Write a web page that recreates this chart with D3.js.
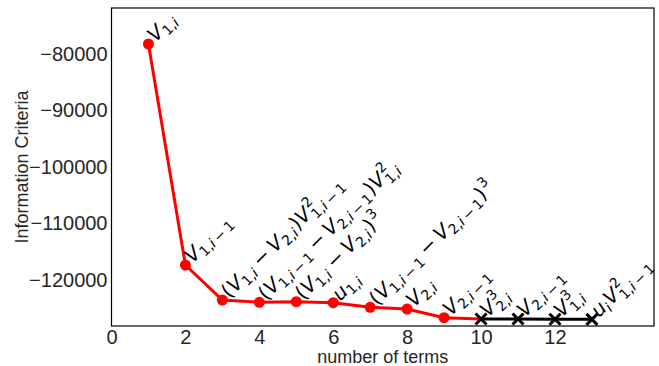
<!DOCTYPE html>
<html>
<head>
<meta charset="utf-8">
<script src="https://cdn.jsdelivr.net/npm/d3@7"></script>
<style>
  html, body { margin: 0; padding: 0; background: #fff; }
  svg { display: block; }
</style>
</head>
<body>
<svg id="chart" width="659" height="366"></svg>
<script>
// ---------------- data ----------------
const terms = [1, 2, 3, 4, 5, 6, 7, 8, 9, 10, 11, 12, 13];
const criteria = [-78230, -117350, -123540, -123950, -123840, -124020, -124830,
                  -125130, -126670, -126900, -126900, -126940, -126960];
// mini-TeX term labels
const termLabels = [
  "V_{1,i}",
  "V_{1,i-1}",
  "(V_{1,i}-V_{2,i})V^{2}_{1,i-1}",
  "(V_{1,i-1}-V_{2,i-1})V^{2}_{1,i}",
  "(V_{1,i}-V_{2,i})^{3}",
  "u_{1,i}",
  "(V_{1,i-1}-V_{2,i-1})^{3}",
  "V_{2,i}",
  "V_{2,i-1}",
  "V^{3}_{2,i}",
  "V_{2,i-1}",
  "V^{3}_{1,i}",
  "u_{i}V^{2}_{1,i-1}"
];
const selectedCount = 10;           // red segment: terms 1..10, black: 10..13
const xTicks = [0, 2, 4, 6, 8, 10, 12];
const yTicks = [-80000, -90000, -100000, -110000, -120000];
const xDomain = [0, 14.68];
const yDomain = [-128140, -71860];
const xLabel = "number of terms";
const yLabel = "Information Criteria";

// ---------------- layout ----------------
const svg = d3.select("#chart");
const m = { left: 111.5, right: 654, top: 8, bottom: 326 };
const x = d3.scaleLinear().domain(xDomain).range([m.left, m.right]);
const y = d3.scaleLinear().domain(yDomain).range([m.bottom, m.top]);

const tickFont = "'Liberation Sans', Arial, sans-serif";
const fmt = v => (v < 0 ? "\u2212" : "") + Math.abs(v);

// axes (no tick marks, just labels)
const xAxis = svg.append("g").attr("transform", `translate(0,${m.bottom})`)
  .call(d3.axisBottom(x).tickValues(xTicks).tickSize(0).tickPadding(4).tickFormat(d3.format("d")));
xAxis.select(".domain").remove();
xAxis.selectAll("text").attr("font-family", tickFont).attr("font-size", 20).attr("fill", "#262626");

const yAxis = svg.append("g").attr("transform", `translate(${m.left},0)`)
  .call(d3.axisLeft(y).tickValues(yTicks).tickSize(0).tickPadding(4).tickFormat(fmt));
yAxis.select(".domain").remove();
yAxis.selectAll("text").attr("font-family", tickFont).attr("font-size", 20).attr("fill", "#262626");

// frame
svg.append("rect")
  .attr("x", m.left).attr("y", m.top)
  .attr("width", m.right - m.left).attr("height", m.bottom - m.top)
  .attr("fill", "none").attr("stroke", "#000").attr("stroke-width", 1.2);

// axis labels
svg.append("text").attr("x", (m.left + m.right) / 2).attr("y", 363)
  .attr("text-anchor", "middle").attr("font-family", tickFont).attr("font-size", 18)
  .attr("fill", "#262626").text(xLabel);
svg.append("text").attr("transform", `translate(28,${(m.top + m.bottom) / 2}) rotate(-90)`)
  .attr("text-anchor", "middle").attr("font-family", tickFont).attr("font-size", 18)
  .attr("fill", "#262626").text(yLabel);

// ---------------- series ----------------
const pts = terms.map((t, i) => ({ t, v: criteria[i], label: termLabels[i] }));
const redPts = pts.slice(0, selectedCount);
const blackPts = pts.slice(selectedCount - 1);
const line = d3.line().x(d => x(d.t)).y(d => y(d.v));

svg.append("path").datum(blackPts).attr("d", line)
  .attr("fill", "none").attr("stroke", "#000").attr("stroke-width", 3);
svg.append("path").datum(redPts).attr("d", line)
  .attr("fill", "none").attr("stroke", "#ff0000").attr("stroke-width", 3);

svg.selectAll("circle.pt").data(redPts.slice(0, selectedCount - 1)).enter()
  .append("circle").attr("class", "pt")
  .attr("cx", d => x(d.t)).attr("cy", d => y(d.v)).attr("r", 5.5).attr("fill", "#ff0000");

const xs = 5.5;
svg.selectAll("path.xm").data(blackPts).enter().append("path").attr("class", "xm")
  .attr("d", d => {
    const cx = x(d.t), cy = y(d.v);
    return `M${cx - xs},${cy - xs}L${cx + xs},${cy + xs}M${cx - xs},${cy + xs}L${cx + xs},${cy - xs}`;
  })
  .attr("stroke", "#000").attr("stroke-width", 3).attr("fill", "none");

// ---------------- math labels ----------------
const mathFont = "'DejaVu Sans', sans-serif";
const FS = 20;

function readGroup(s, i) {
  if (s[i] === "{") {
    let j = s.indexOf("}", i);
    return [s.slice(i + 1, j), j + 1];
  }
  return [s[i], i + 1];
}
function parse(s) {
  const items = [];
  let i = 0;
  while (i < s.length) {
    const c = s[i];
    if (c === "^" || c === "_") {
      const [g, ni] = readGroup(s, i + 1);
      let sup = null, sub = null;
      if (c === "^") sup = g; else sub = g;
      i = ni;
      if (i < s.length && (s[i] === "^" || s[i] === "_") && s[i] !== c) {
        const [g2, n2] = readGroup(s, i + 1);
        if (s[i] === "^") sup = g2; else sub = g2;
        i = n2;
      }
      items.push({ kind: "script", sup, sub });
    } else {
      items.push({ kind: "atom", c });
      i++;
    }
  }
  return items;
}

function drawRun(g, str, x0, dy, size) {
  let cx = x0;
  for (const ch of str) {
    let txt = ch, pre = 0, post = 0;
    const italic = /[A-Za-z]/.test(ch);
    if (ch === "-") { txt = "\u2212"; pre = size * 0.2; post = size * 0.2; }
    cx += pre;
    const t = g.append("text").attr("x", cx).attr("y", dy)
      .attr("font-family", mathFont).attr("font-size", size)
      .attr("font-style", italic ? "italic" : "normal").attr("fill", "#000").text(txt);
    cx += t.node().getComputedTextLength() + post;
  }
  return cx;
}

pts.forEach(d => {
  const g = svg.append("g")
    .attr("transform", `translate(${x(d.t) + 7},${y(d.v) - 1}) rotate(-45)`);
  let cx = 0;
  for (const it of parse(d.label)) {
    if (it.kind === "atom") {
      cx = drawRun(g, it.c, cx, 0, FS);
    } else {
      const sFS = FS * 0.7;
      const both = it.sup && it.sub;
      let w1 = cx, w2 = cx;
      if (it.sup) w1 = drawRun(g, it.sup, cx + 1, both ? -FS * 0.45 : -FS * 0.42, sFS);
      if (it.sub) w2 = drawRun(g, it.sub, cx, both ? FS * 0.28 : FS * 0.2, sFS);
      cx = Math.max(w1, w2) + 1;
    }
  }
});
</script>
</body>
</html>
